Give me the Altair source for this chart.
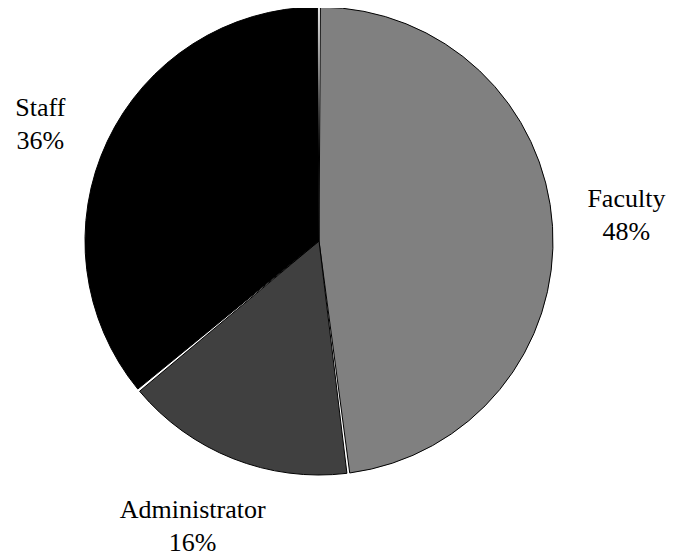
import altair as alt
import pandas as pd

categories = ["Faculty", "Administrator", "Staff"]
values = [48, 16, 36]
colors = ["#808080", "#404040", "#000000"]

df = pd.DataFrame({
    "category": categories,
    "value": values,
    "order": list(range(len(categories))),
    "label": [f"{c}\n{v}%" for c, v in zip(categories, values)],
})

base = alt.Chart(df).encode(
    theta=alt.Theta("value:Q", stack=True),
    order=alt.Order("order:Q"),
)

arcs = base.mark_arc(
    outerRadius=234, stroke="black", strokeWidth=1, padAngle=0.012
).encode(
    color=alt.Color("category:N", scale=alt.Scale(domain=categories, range=colors), legend=None)
)

# small per-label nudges (style only) to match the reference placement
nudges = {"Faculty": (0, -23), "Administrator": (-13, -17), "Staff": (0, -2)}
label_layers = []
for cat in categories:
    ddx, ddy = nudges[cat]
    label_layers.append(
        base.mark_text(
            radius=308, font="Liberation Serif", fontSize=26, color="black",
            lineBreak="\n", lineHeight=33, align="center", baseline="middle",
            dx=ddx, dy=ddy,
        ).encode(
            text="label:N",
            opacity=alt.condition(alt.datum.category == cat, alt.value(1), alt.value(0)),
        )
    )

chart = alt.layer(arcs, *label_layers).properties(
    width=622, height=466,
    padding={"left": 0, "top": 0, "right": 36, "bottom": 84},
    autosize=alt.AutoSizeParams(type="none"),
).configure_view(stroke=None).configure(background="white")

chart.save("out.html", embed_options={"renderer": "svg", "actions": False})
